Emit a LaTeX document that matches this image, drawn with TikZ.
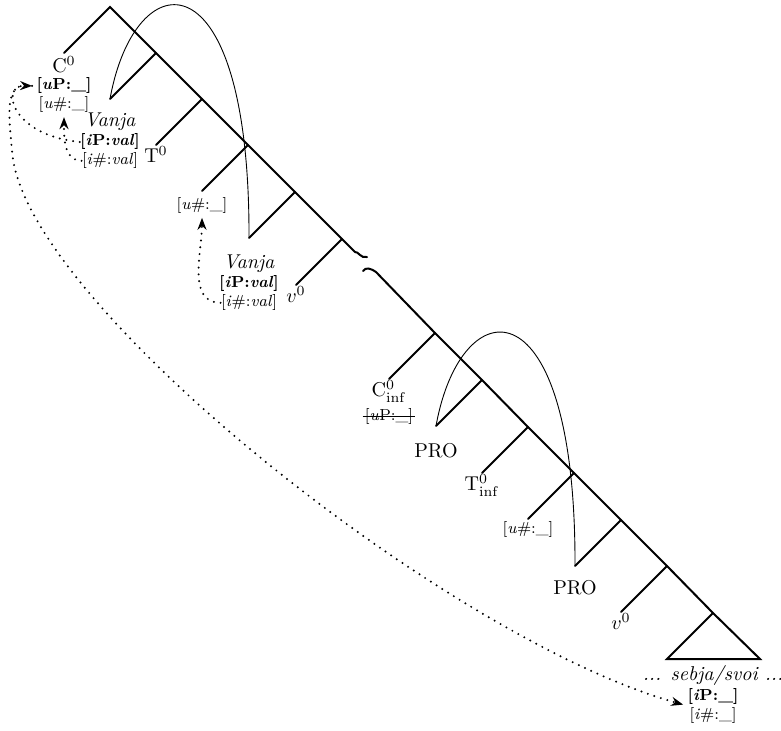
\documentclass[tikz,border=0pt]{standalone}
\usetikzlibrary{arrows.meta, positioning}
\tikzset{
  branch/.style  = {line width=1pt, line cap=round},
  mvarc/.style   = {line width=0.45pt},
  agree/.style   = {line width=1.1pt, line cap=round, dash pattern=on 0pt off 3.4pt,
                    -{Stealth[length=6pt, width=4.5pt]}},
  lbl/.style     = {inner sep=0.5pt},
  feat/.style    = {font=\footnotesize, inner sep=0pt},
}
\begin{document}
\begin{tikzpicture}[x=0.5pt, y=-0.5pt]
  \useasboundingbox (0,0) rectangle (781,730);
  % spine
  \coordinate (cbar)     at (110,7);
  \coordinate (tp)       at (156,53);
  \coordinate (tbar)     at (202,99);
  \coordinate (nump)     at (248,145);
  \coordinate (vp)       at (295,192);
  \coordinate (vbar)     at (342,239);
  \coordinate (brka)     at (355,252);
  \coordinate (brkb)     at (376,272);
  \coordinate (cinfbar)  at (435,333);
  \coordinate (tinfp)    at (482,380);
  \coordinate (tinfbar)  at (528,427);
  \coordinate (numinf)   at (574,473);
  \coordinate (vinfp)    at (621,520);
  \coordinate (vinfbar)  at (667,566);
  \coordinate (vpinf)    at (713,613);
  % leaves
  \coordinate (c0)       at (64,53);
  \coordinate (spect)    at (110,99);
  \coordinate (t0)       at (156,145);
  \coordinate (num)      at (202,191);
  \coordinate (specv)    at (249,238);
  \coordinate (v0)       at (296,285);
  \coordinate (cinf)     at (389,379);
  \coordinate (spectinf) at (436,426);
  \coordinate (tinf)     at (482,473);
  \coordinate (numi)     at (528,519);
  \coordinate (specvinf) at (575,566);
  \coordinate (vinf)     at (621,612);
  \coordinate (tril)     at (667,659);
  \coordinate (trir)     at (760,659);
  \coordinate (trim)     at (713,659);

  \draw[branch] (c0) -- (cbar) -- (tp) -- (tbar) -- (nump) -- (vp) -- (vbar) -- (brka);
  \draw[branch] (brka) .. controls (358,251) and (361,259) .. (367,257);
  \draw[branch] (363,271) .. controls (366,267) and (370,268) .. (brkb);
  \draw[branch] (brkb) -- (cinfbar) -- (tinfp) -- (tinfbar) -- (numinf) -- (vinfp)
                -- (vinfbar) -- (vpinf) -- (trir) -- (tril) -- (vpinf);
  \draw[branch] (tp) -- (spect);
  \draw[branch] (tbar) -- (t0);
  \draw[branch] (nump) -- (num);
  \draw[branch] (vp) -- (specv);
  \draw[branch] (vbar) -- (v0);
  \draw[branch] (cinfbar) -- (cinf);
  \draw[branch] (tinfp) -- (spectinf);
  \draw[branch] (tinfbar) -- (tinf);
  \draw[branch] (numinf) -- (numi);
  \draw[branch] (vinfp) -- (specvinf);
  \draw[branch] (vinfbar) -- (vinf);

  % movement
  \draw[mvarc] (spect) .. controls +(25,-139) and +(1,-288) .. (specv);
  \draw[mvarc] (spectinf) .. controls +(25,-139) and +(1,-288) .. (specvinf);

  % labels
  \node[lbl, below=1pt of c0] (czero) {C$^0$};
  \node[feat, below=1.5pt of czero] (czP) {\textbf{[\textit{u}P:\_]}};
  \node[feat, below=1pt of czP] (czN) {[\textit{u}\#:\_]};

  \node[lbl, below=6pt of spect] (vaname) {\textit{Vanja}};
  \node[feat, below=1pt of vaname] (vaP) {\textbf{[\textit{i}P:\textit{val}]}};
  \node[feat, below=1pt of vaP] (vaN) {[\textit{i}\#:\textit{val}]};

  \node[lbl, below=0pt of t0] (tzero) {T$^0$};
  \node[feat, below=3pt of num] (numA) {[\textit{u}\#:\_]};

  \node[lbl, below=7.5pt of specv] (vbname) {\textit{Vanja}};
  \node[feat, below=1pt of vbname] (vbP) {\textbf{[\textit{i}P:\textit{val}]}};
  \node[feat, below=1pt of vbP] (vbN) {[\textit{i}\#:\textit{val}]};
  \node[lbl, below=0pt of v0] (vzero) {$v^0$};

  \node[lbl, below=0pt of cinf] (cinfl) {C$^0_{\mathrm{inf}}$};
  \node[feat, below=2pt of cinfl] (cinfP) {[\textit{u}P:\_]};
  \draw[line width=0.4pt] ([xshift=-1pt]cinfP.west) -- ([xshift=1pt]cinfP.east);

  \node[lbl, below=8pt of spectinf] (proA) {PRO};
  \node[lbl, below=0pt of tinf] (tinfl) {T$^0_{\mathrm{inf}}$};
  \node[feat, below=1pt of numi] (numB) {[\textit{u}\#:\_]};
  \node[lbl, below=6.5pt of specvinf] (proB) {PRO};
  \node[lbl, below=0pt of vinf] (vzeroinf) {$v^0$};

  \node[lbl, below=2.5pt of trim] (sebja) {\textit{... sebja/svoi ...}};
  \node[feat, below=0.5pt of sebja] (siP) {\textbf{[\textit{i}P:\_]}};
  \node[feat, below=1pt of siP] (siN) {[\textit{i}\#:\_]};

  % agreement
  \draw[agree] (vaP.west) .. controls (10,135) and (0,85) .. ([xshift=-2pt]czP.west);
  \draw[agree] (vaN.west) to[out=180, in=-90] ([yshift=-2pt]czN.south);
  \draw[agree] (vbN.west) to[out=180, in=-90] ([yshift=-2pt]numA.south);
  \draw[agree] ([xshift=-2pt]czP.west) .. controls (5,80) and (8,110) .. (12,150)
               .. controls (20,300) and (450,640) .. ([xshift=-2pt]siP.south west);
\end{tikzpicture}
\end{document}
